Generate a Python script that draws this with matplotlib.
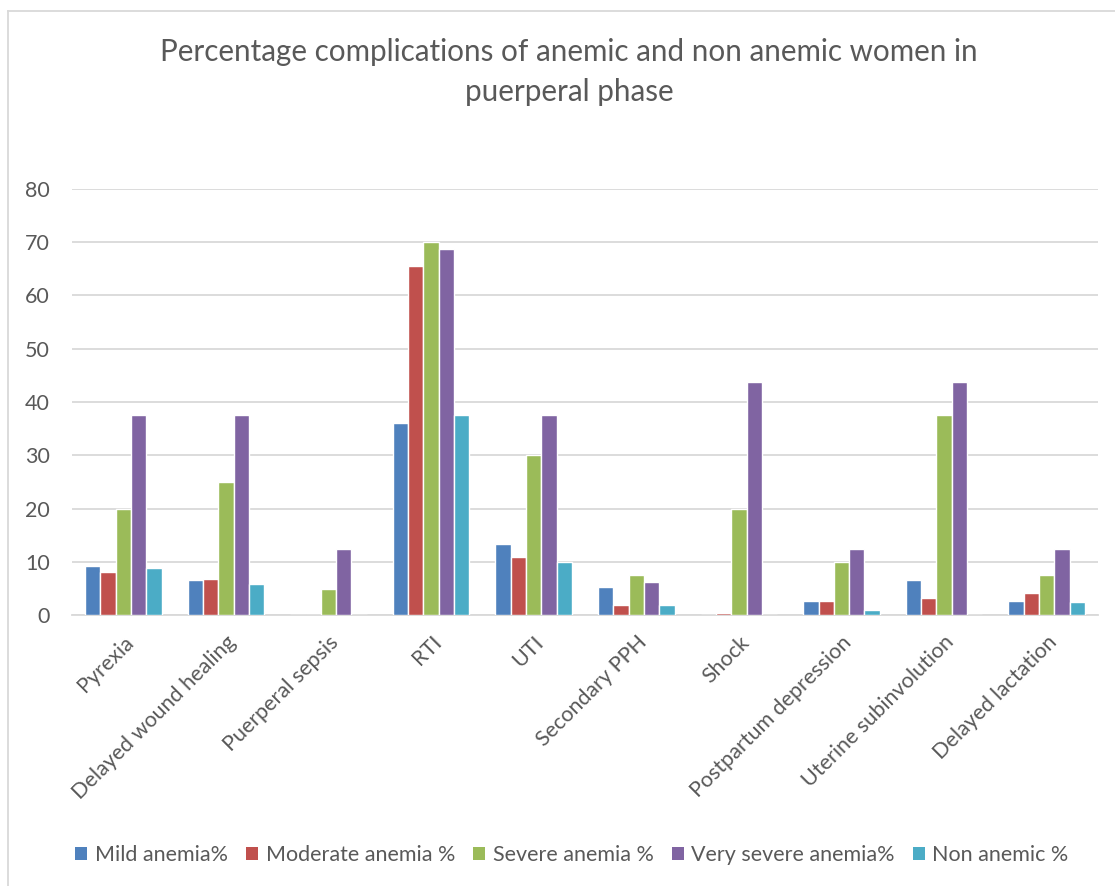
import matplotlib
matplotlib.use("Agg")
import matplotlib.pyplot as plt
import numpy as np
from matplotlib.patches import Patch
from matplotlib.lines import Line2D

plt.rcParams['font.family'] = ['Lato', 'DejaVu Sans']

categories = ["Pyrexia", "Delayed wound healing", "Puerperal sepsis", "RTI", "UTI",
              "Secondary PPH", "Shock", "Postpartum depression",
              "Uterine subinvolution", "Delayed lactation"]

series_names = ["Mild anemia%", "Moderate anemia %", "Severe anemia %",
                "Very severe anemia%", "Non anemic %"]

mild = [9.3, 6.6, 0, 36.0, 13.3, 5.3, 0, 2.6, 6.6, 2.6]
moderate = [8.2, 6.8, 0, 65.5, 11.0, 1.9, 0.5, 2.7, 3.3, 4.1]
severe = [20, 25, 5, 70, 30, 7.5, 20, 10, 37.5, 7.5]
very_severe = [37.5, 37.5, 12.5, 68.7, 37.5, 6.2, 43.7, 12.5, 43.7, 12.5]
non_anemic = [8.9, 5.9, 0, 37.5, 10, 1.9, 0, 0.9, 0, 2.4]

colors = ["#4F81BD", "#C0504D", "#9BBB59", "#8064A2", "#4BACC6"]
text_color = "#595959"
grid_color = "#D9D9D9"

W, H = 1115, 886
fig = plt.figure(figsize=(W / 100, H / 100), dpi=100)

# chart frame (only the left and top edges fall inside the canvas)
fig.add_artist(Line2D([8 / W, 8 / W], [0, 1 - 11 / H], color=grid_color, lw=1.3,
                      transform=fig.transFigure))
fig.add_artist(Line2D([8 / W, 1], [1 - 11 / H, 1 - 11 / H], color=grid_color, lw=1.3,
                      transform=fig.transFigure))

ax = fig.add_axes([72 / W, 1 - 615.3 / H, (1098 - 72) / W, (615.3 - 188.6) / H])

x = np.arange(len(categories))
bw = 0.149
all_series = [mild, moderate, severe, very_severe, non_anemic]
for i, (vals, c) in enumerate(zip(all_series, colors)):
    ax.bar(x + (i - 2) * bw, vals, width=bw, color=c, edgecolor="white",
           linewidth=1.0, zorder=3)

ax.set_xlim(-0.5, len(categories) - 0.5)
ax.set_ylim(0, 80)
ax.set_yticks(np.arange(0, 81, 10))
ax.yaxis.grid(True, color=grid_color, linewidth=1.3, zorder=0)
ax.set_axisbelow(True)
for s in ["top", "right", "left"]:
    ax.spines[s].set_visible(False)
ax.spines["bottom"].set_color(grid_color)
ax.spines["bottom"].set_linewidth(1.3)
ax.tick_params(axis="both", length=0, colors=text_color, labelsize=15.5)
ax.tick_params(axis="y", pad=16)
ax.set_xticks(x)
ax.set_xticklabels(categories, rotation=45, ha="right", rotation_mode="anchor",
                   color=text_color, fontsize=15.5)
ax.tick_params(axis="x", pad=12)

fig.text(569 / W, 1 - 52 / H, "Percentage complications of anemic and non anemic women in",
         ha="center", va="center", fontsize=21.3, color=text_color)
fig.text(569 / W, 1 - 92 / H, "puerperal phase",
         ha="center", va="center", fontsize=21.3, color=text_color)

handles = [Patch(facecolor=c, edgecolor="none") for c in colors]
fig.legend(handles, series_names, loc="center", bbox_to_anchor=(572 / W, 1 - 855 / H),
           ncol=5, frameon=False, fontsize=15.5, labelcolor=text_color,
           handlelength=0.55, handleheight=0.55, handletextpad=0.35, columnspacing=0.85)

fig.savefig("out.png", dpi=100, facecolor="white")
